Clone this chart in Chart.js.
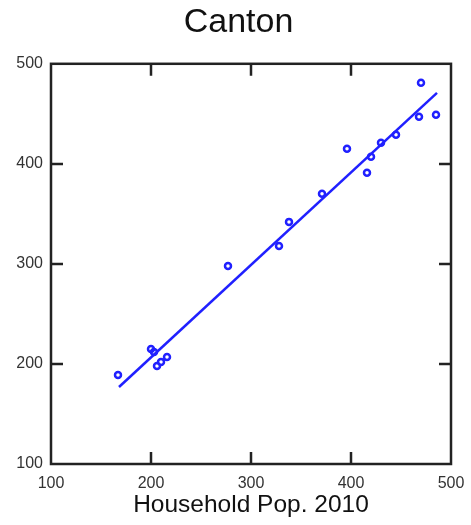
<!DOCTYPE html>
<html>
<head>
<meta charset="utf-8">
<script src="https://cdn.jsdelivr.net/npm/chart.js@4"></script>
<style>
  body { margin: 0; background: #fff; }
  #wrap { width: 471px; height: 525px; }
</style>
</head>
<body>
<div id="wrap"><canvas id="chart"></canvas></div>
<script>
// data
const householdPop = [167, 200, 203, 206, 210, 216, 277, 328, 338, 371, 396, 416, 420, 430, 445, 468, 470, 485];
const otherPop     = [189, 215, 212, 198, 202, 207, 298, 318, 342, 370, 415, 391, 407, 421, 429, 447, 481, 449];
const fitX = [168, 486];
const fitY = [177, 471];
const axisMin = 100;
const axisMax = 500;
const axisStep = 100;

const blue = '#2020ff';
const fontFamily = '"Liberation Sans", Arial, sans-serif';

const points = householdPop.map((x, i) => ({ x: x, y: otherPop[i] }));
const fitLine = fitX.map((x, i) => ({ x: x, y: fitY[i] }));

// frame round the plot area plus inward tick marks on all four sides
const frameTicks = {
  id: 'frameTicks',
  afterDatasetsDraw(chart) {
    const { ctx, chartArea: a, scales } = chart;
    const len = 12;
    ctx.save();
    ctx.strokeStyle = '#222';
    ctx.lineWidth = 2.5;
    ctx.strokeRect(a.left, a.top, a.right - a.left, a.bottom - a.top);
    ctx.beginPath();
    scales.x.ticks.forEach(t => {
      if (t.value <= axisMin || t.value >= axisMax) return;
      const px = Math.round(scales.x.getPixelForValue(t.value));
      ctx.moveTo(px, a.bottom); ctx.lineTo(px, a.bottom - len);
      ctx.moveTo(px, a.top); ctx.lineTo(px, a.top + len);
    });
    scales.y.ticks.forEach(t => {
      if (t.value <= axisMin || t.value >= axisMax) return;
      const py = Math.round(scales.y.getPixelForValue(t.value));
      ctx.moveTo(a.left, py); ctx.lineTo(a.left + len, py);
      ctx.moveTo(a.right, py); ctx.lineTo(a.right - len, py);
    });
    ctx.stroke();
    ctx.restore();
  }
};

new Chart(document.getElementById('chart'), {
  type: 'scatter',
  data: {
    datasets: [
      {
        data: points,
        pointStyle: 'circle',
        pointRadius: 3,
        pointBorderWidth: 2.5,
        pointBorderColor: blue,
        pointBackgroundColor: 'rgba(0,0,0,0)'
      },
      {
        type: 'line',
        data: fitLine,
        borderColor: blue,
        borderWidth: 2.5,
        pointRadius: 0,
        fill: false
      }
    ]
  },
  options: {
    responsive: true,
    maintainAspectRatio: false,
    animation: false,
    layout: { padding: { left: 6, right: 0, top: 0, bottom: 0 } },
    plugins: {
      legend: { display: false },
      tooltip: { enabled: false },
      title: {
        display: true,
        text: 'Canton',
        color: '#111',
        font: { family: fontFamily, size: 34, weight: 'normal' },
        padding: { top: 2, bottom: 21 }
      }
    },
    scales: {
      x: {
        type: 'linear',
        min: axisMin,
        max: axisMax,
        grid: { display: false, drawTicks: false },
        border: { display: false },
        ticks: {
          stepSize: axisStep,
          padding: 10,
          color: '#333',
          font: { family: fontFamily, size: 16 }
        },
        title: {
          display: true,
          text: 'Household Pop. 2010',
          color: '#111',
          font: { family: fontFamily, size: 24.5 },
          padding: { top: 0, bottom: 5 }
        },
        afterFit(scale) {
          scale.height = 61;
          // the side axes already leave room for the end labels
          scale.paddingLeft = 0;
          scale.paddingRight = 0;
        }
      },
      y: {
        type: 'linear',
        min: axisMin,
        max: axisMax,
        grid: { display: false, drawTicks: false },
        border: { display: false },
        ticks: {
          stepSize: axisStep,
          padding: 8,
          color: '#333',
          font: { family: fontFamily, size: 16 }
        },
        afterFit(scale) { scale.width = 45; }
      },
      // empty right-hand axis, only holds the space right of the frame
      yRight: {
        type: 'linear',
        position: 'right',
        min: axisMin,
        max: axisMax,
        grid: { display: false, drawTicks: false },
        border: { display: false },
        ticks: { display: false },
        afterFit(scale) { scale.width = 20; }
      }
    }
  },
  plugins: [frameTicks]
});
</script>
</body>
</html>
